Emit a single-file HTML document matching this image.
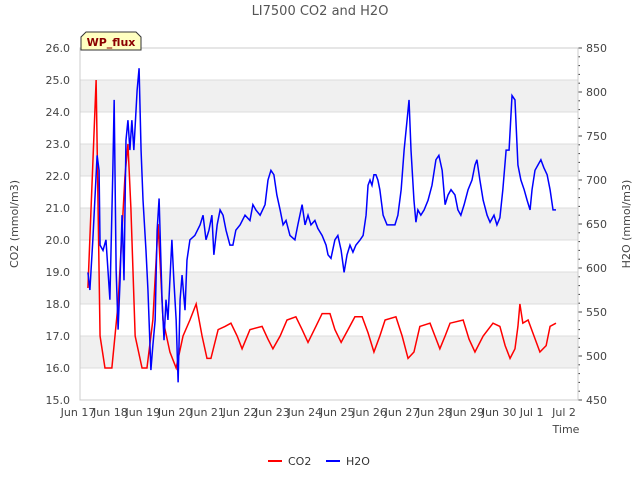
<!DOCTYPE html>
<html><head><meta charset="utf-8"><style>
body{margin:0;background:#fff;font-family:"Liberation Sans","DejaVu Sans",sans-serif}
svg text{font-family:"DejaVu Sans","Liberation Sans",sans-serif}
</style></head><body>
<svg id="c" width="640" height="480" xmlns="http://www.w3.org/2000/svg"></svg>
<script>
const co2T=[0.15,0.40,0.52,0.67,0.88,1.07,1.28,1.37,1.46,1.59,1.80,1.95,2.13,2.29,2.44,2.65,2.84,3.05,3.26,3.45,3.63,3.78,3.90,4.12,4.33,4.51,4.70,4.85,5.09,5.46,5.64,5.79,6.01,6.22,6.49,6.68,6.86,7.10,7.29,7.53,7.68,7.87,8.08,8.29,8.51,8.69,8.87,9.05,9.21,9.54,9.73,9.91,10.09,10.27,10.58,10.73,10.88,11.04,11.19,11.59,11.77,11.95,12.20,12.50,12.71,12.87,13.02,13.17,13.26,13.32,13.41,13.57,13.75,13.93,14.12,14.24,14.42];
const co2V=[18.5,25.0,17.0,16.0,16.0,18.0,22.0,23.0,21.0,17.0,16.0,16.0,17.5,20.5,17.5,16.5,16.0,17.0,17.5,18.0,17.0,16.3,16.3,17.2,17.3,17.4,17.0,16.6,17.2,17.3,16.9,16.6,17.0,17.5,17.6,17.2,16.8,17.3,17.7,17.7,17.2,16.8,17.2,17.6,17.6,17.1,16.5,17.0,17.5,17.6,17.0,16.3,16.5,17.3,17.4,17.0,16.6,17.0,17.4,17.5,16.9,16.5,17.0,17.4,17.3,16.7,16.3,16.6,17.3,18.0,17.4,17.5,17.0,16.5,16.7,17.3,17.4];
const h2oT=[.15,.21,.30,.43,.49,.52,.61,.70,.82,.91,.95,1.01,1.07,1.13,1.19,1.25,1.31,1.37,1.43,1.49,1.55,1.65,1.71,1.77,1.83,1.92,1.98,2.07,2.13,2.20,2.26,2.32,2.41,2.47,2.53,2.59,2.71,2.77,2.84,2.90,2.96,3.02,3.11,3.17,3.26,3.41,3.57,3.66,3.75,3.84,3.93,3.99,4.09,4.18,4.27,4.36,4.48,4.57,4.66,4.79,4.94,5.09,5.18,5.27,5.40,5.55,5.64,5.73,5.82,5.91,6.01,6.10,6.19,6.31,6.46,6.55,6.68,6.77,6.86,6.95,7.07,7.16,7.29,7.41,7.47,7.56,7.68,7.77,7.87,7.96,8.05,8.14,8.23,8.32,8.45,8.54,8.63,8.69,8.75,8.81,8.87,8.93,8.99,9.05,9.15,9.27,9.39,9.51,9.60,9.70,9.79,9.88,9.94,10.00,10.09,10.15,10.21,10.30,10.40,10.52,10.64,10.76,10.85,10.95,11.04,11.13,11.22,11.34,11.43,11.52,11.62,11.74,11.86,11.95,12.01,12.10,12.20,12.32,12.41,12.53,12.62,12.71,12.80,12.90,12.99,13.08,13.17,13.26,13.35,13.45,13.54,13.63,13.69,13.78,13.87,13.96,14.05,14.15,14.24,14.33,14.42];
const h2oV=[595,575,632,728,711,626,620,632,564,711,791,598,530,586,660,586,745,768,734,768,734,802,827,734,677,620,575,484,512,541,643,679,564,518,564,541,632,586,541,470,564,592,552,609,632,637,649,660,632,643,660,615,649,666,660,643,626,626,643,649,660,654,672,666,660,672,700,711,706,683,666,649,654,637,632,649,672,649,660,649,654,645,637,626,615,611,632,637,620,595,615,626,618,626,632,637,660,694,700,694,706,706,700,689,660,649,649,649,660,689,734,768,791,734,677,652,666,660,666,677,694,723,728,711,672,683,689,683,666,660,672,689,700,717,723,700,677,660,652,660,649,657,689,734,734,796,791,717,700,689,677,666,689,711,717,723,714,706,689,666,666];
const leftTicks=["15.0","16.0","17.0","18.0","19.0","20.0","21.0","22.0","23.0","24.0","25.0","26.0"];
const rightTicks=["450","500","550","600","650","700","750","800","850"];
const xLabels=["Jun 17","Jun 18","Jun 19","Jun 20","Jun 21","Jun 22","Jun 23","Jun 24","Jun 25","Jun 26","Jun 27","Jun 28","Jun 29","Jun 30","Jul 1","Jul 2"];
const L=80,R=578,T=48,B=400;
const X=t=>83+t*32.8, Y1=v=>T+(26-v)*(B-T)/11, Y2=v=>B-(v-450)*(B-T)/400;
const XL=i=>78+i*32.4;
const svg=document.getElementById('c'),NS="http://www.w3.org/2000/svg";
function mk(tag,a,p){const e=document.createElementNS(NS,tag);for(const k in a)e.setAttribute(k,a[k]);(p||svg).appendChild(e);return e;}
function tx(s,x,y,a,sz,col){const e=mk('text',{x:x,y:y,'text-anchor':a||'middle','font-size':sz||11,fill:col||'#444'});e.textContent=s;return e;}
for(let i=0;i<11;i++){if(i%2==1){const r=mk('rect',{x:L,y:Y1(15+i+1),width:R-L,height:Y1(15+i)-Y1(16+i),fill:'#f0f0f0'});}}
leftTicks.forEach((s,i)=>{const y=Y1(parseFloat(s));mk('line',{x1:L,x2:R,y1:y,y2:y,stroke:'#dcdcdc'});const t=tx(s,L-10,y+4,'end');});
rightTicks.forEach(s=>{const y=Y2(+s);mk('line',{x1:R,x2:R+4,y1:y,y2:y,stroke:'#444'});const t=tx(s,R+8,y+4,'start');});
for(let v=450;v<=850;v+=10)mk('line',{x1:R,x2:R+2,y1:Y2(v),y2:Y2(v),stroke:'#444'});
mk('rect',{x:L,y:T,width:R-L,height:B-T,fill:'none',stroke:'#ccc'});
xLabels.forEach((s,i)=>{const t=tx(s,XL(i),416);});
function line(ts,vs,f,col,name){const p=mk('polyline',{points:ts.map((t,i)=>X(t)+','+f(vs[i])).join(' '),fill:'none',stroke:col,'stroke-width':1.5});}
line(co2T,co2V,Y1,'#ff0000','co2-line');
line(h2oT,h2oV,Y2,'#0000ff','h2o-line');
let t=tx('LI7500 CO2 and H2O',320,15,'middle',13,'#555');
t=tx('Time',566,433);
t=tx('CO2 (mmol/m3)',18,224,'middle',11);t.setAttribute('transform','rotate(-90 18 224)');
t=tx('H2O (mmol/m3)',630,224,'middle',11);t.setAttribute('transform','rotate(-90 630 224)');
const g=mk('g',{});
mk('path',{d:'M81,50 L81,37 L86,32 L136,32 L141,37 L141,50 Z',fill:'#ffffc0',stroke:'#333'},g);
t=tx('WP_flux',111,46,'middle',11,'#8b0000');t.setAttribute('font-weight','bold');g.appendChild(t);
const lg=mk('g',{});
mk('line',{x1:268,x2:282,y1:461,y2:461,stroke:'#f00','stroke-width':2},lg);
t=tx('CO2',288,465,'start',11,'#333');
mk('line',{x1:326,x2:340,y1:461,y2:461,stroke:'#00f','stroke-width':2},lg);
t=tx('H2O',346,465,'start',11,'#333');
</script>
</body></html>
